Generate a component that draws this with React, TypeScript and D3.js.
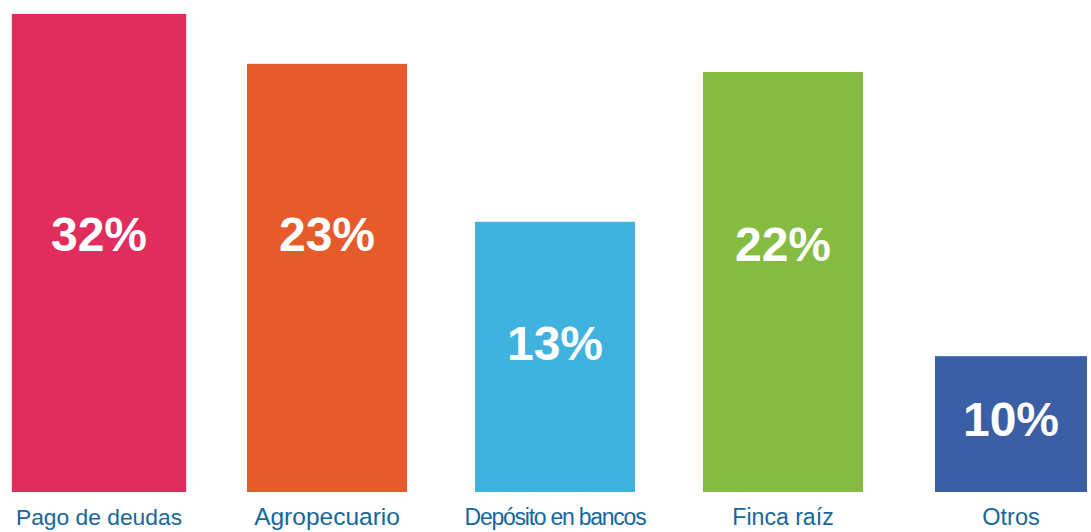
import React from "react";
import * as d3 from "d3";

// Data
const categories = ["Pago de deudas", "Agropecuario", "Depósito en bancos", "Finca raíz", "Otros"];
const percentages = [32, 23, 13, 22, 10];
// Drawn bar heights as they appear in the picture (chart is not to scale), on a 0–100 visual scale
const drawnHeights = [99.6, 89.2, 56.3, 87.5, 28.3];

// Styles / layout
const colors = ["#E02D5E", "#E65B2B", "#40B2DE", "#86BC41", "#3C5EA5"];
const widthFactors = [1.09, 1, 1, 1, 0.95];
const labelFractions = [0.459, 0.396, 0.448, 0.41, 0.46];
const catFontSizes = [22.8, 24.5, 23, 23.1, 23.5];
const catSpacing = [0, 0, -1.25, 0, 0];

const W = 1091;
const H = 532;
const baseline = 492;
const topY = 12;
const barW = 160;

export default function App() {
  const x = d3.scalePoint<string>().domain(categories).range([99, 1011]);
  const y = d3.scaleLinear().domain([0, 100]).range([baseline, topY]);

  return (
    <svg
      width={W}
      height={H}
      style={{ position: "absolute", left: 0, top: 0, background: "#fff" }}
      fontFamily="'Liberation Sans', Arial, sans-serif"
    >
      {categories.map((c, i) => {
        const cx = x(c)!;
        const w = barW * widthFactors[i];
        const top = y(drawnHeights[i]);
        const h = y(0) - top;
        const ly = top + h * labelFractions[i];
        return (
          <g key={c}>
            <rect x={cx - w / 2} y={top} width={w} height={h} fill={colors[i]} />
            <text
              x={cx}
              y={ly}
              dy="0.36em"
              textAnchor="middle"
              fill="#fff"
              fontWeight="bold"
              fontSize={48}
            >
              {percentages[i]}%
            </text>
            <text
              x={cx}
              y={525}
              textAnchor="middle"
              fill="#15679E"
              fontSize={catFontSizes[i]}
              letterSpacing={catSpacing[i]}
            >
              {c}
            </text>
          </g>
        );
      })}
    </svg>
  );
}
